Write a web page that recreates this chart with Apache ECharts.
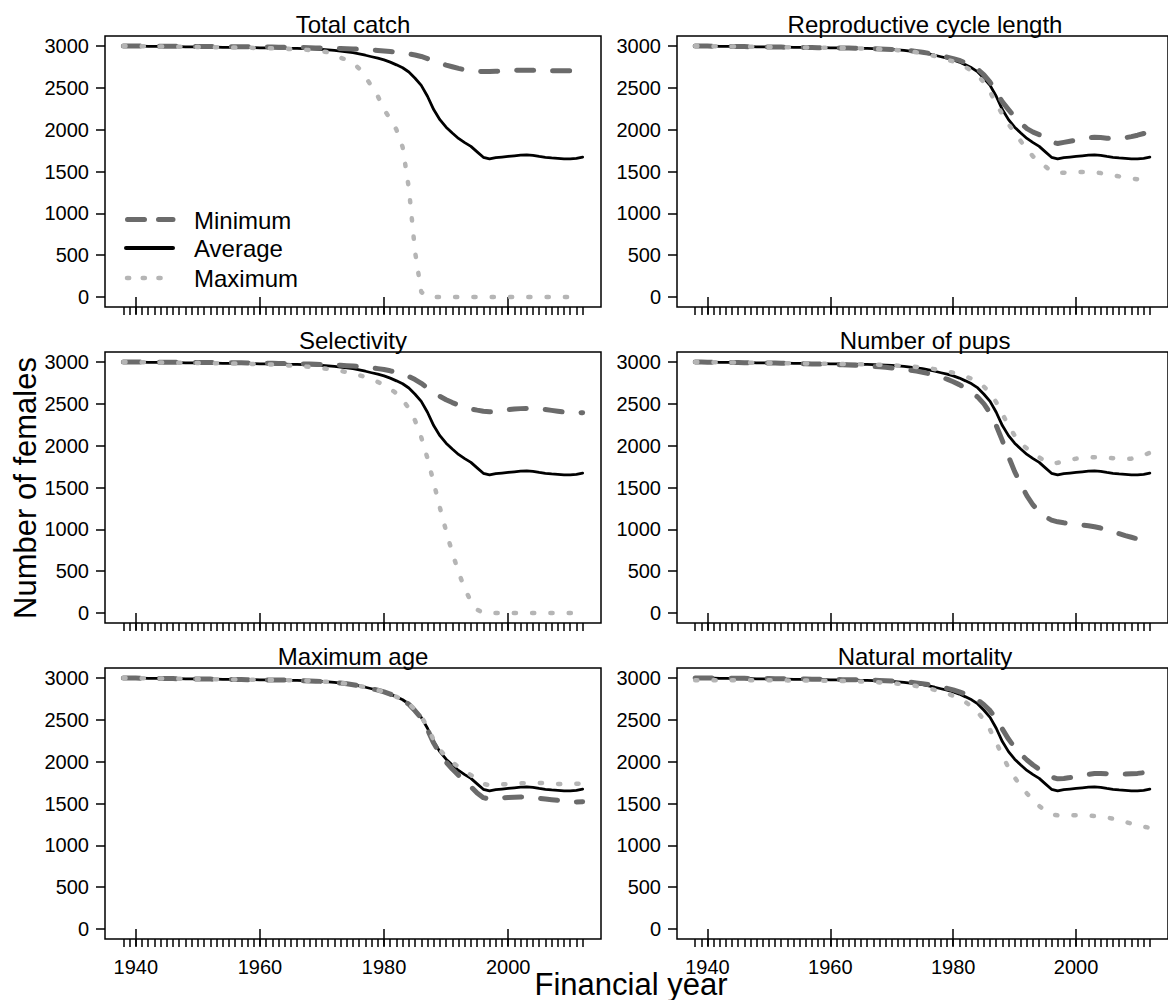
<!DOCTYPE html>
<html>
<head>
<meta charset="utf-8">
<script src="https://cdn.jsdelivr.net/npm/echarts@6/dist/echarts.min.js"></script>
<style>
html,body{margin:0;padding:0;background:#fff;}
#chart{width:1168px;height:1000px;}
</style>
</head>
<body>
<div id="chart"></div>
<script>
// ---------- DATA ----------
const years = [1938,1939,
 1940,1941,1942,1943,1944,1945,1946,1947,1948,1949,
 1950,1951,1952,1953,1954,1955,1956,1957,1958,1959,
 1960,1961,1962,1963,1964,1965,1966,1967,1968,1969,
 1970,1971,1972,1973,1974,1975,1976,1977,1978,1979,
 1980,1981,1982,1983,1984,1985,1986,1987,1988,1989,
 1990,1991,1992,1993,1994,1995,1996,1997,1998,1999,
 2000,2001,2002,2003,2004,2005,2006,2007,2008,2009,
 2010,2011,2012];

const xMajorTicks = [1940,1960,1980,2000];
const yTicks = [0,500,1000,1500,2000,2500,3000];

const panelTitles = ["Total catch","Reproductive cycle length","Selectivity","Number of pups","Maximum age","Natural mortality"];
const seriesNames = ["Minimum","Average","Maximum"];

const average = [3000,3000,
 2999,2998,2997,2996,2995,2994,2993,2992,2991,2990,
 2989,2988,2987,2986,2985,2984,2983,2982,2981,2980,
 2979,2978,2977,2976,2975,2973,2971,2969,2966,2963,
 2959,2954,2948,2940,2931,2920,2906,2890,2872,2855,
 2835,2808,2775,2740,2690,2615,2530,2400,2240,2120,
 2030,1960,1895,1845,1800,1735,1670,1650,1665,1672,
 1680,1688,1695,1698,1692,1680,1670,1662,1656,1650,
 1650,1658,1672];

const catchMin = [3000,3000,
 3000,2999,2999,2998,2998,2997,2997,2996,2996,2995,
 2995,2994,2994,2993,2993,2992,2992,2991,2990,2990,
 2989,2988,2987,2986,2985,2984,2983,2982,2980,2978,
 2976,2974,2972,2970,2968,2965,2962,2958,2954,2948,
 2942,2935,2926,2916,2905,2893,2875,2850,2820,2795,
 2772,2752,2733,2716,2705,2698,2695,2695,2698,2702,
 2706,2710,2712,2712,2710,2708,2706,2705,2705,2705,
 2705,2705,2705];
const catchMax = [3000,3000,
 2999,2998,2997,2996,2995,2994,2993,2992,2991,2990,
 2989,2988,2987,2986,2985,2984,2983,2982,2980,2978,
 2976,2974,2972,2969,2966,2963,2960,2956,2952,2946,
 2938,2925,2900,2860,2835,2800,2730,2630,2520,2400,
 2240,2130,2000,1790,1300,540,60,0,0,0,
 0,0,0,0,0,0,0,0,0,0,
 0,0,0,0,0,0,0,0,0,0,
 0,0,0];

const reproMin = [3000,3000,
 2999,2998,2997,2996,2995,2994,2993,2992,2991,2990,
 2989,2988,2987,2986,2985,2984,2983,2982,2981,2980,
 2979,2978,2977,2976,2975,2973,2971,2969,2966,2963,
 2960,2956,2951,2944,2936,2926,2914,2900,2884,2868,
 2850,2828,2800,2768,2722,2655,2568,2445,2332,2240,
 2152,2078,2012,1970,1940,1895,1850,1835,1848,1862,
 1876,1892,1903,1909,1906,1898,1892,1894,1904,1917,
 1934,1954,1975];
const reproMax = [3000,3000,
 2999,2998,2997,2996,2995,2994,2993,2992,2991,2990,
 2989,2988,2987,2986,2985,2984,2983,2982,2981,2979,
 2978,2977,2976,2975,2973,2971,2969,2966,2963,2959,
 2955,2950,2943,2935,2925,2913,2898,2880,2860,2838,
 2815,2785,2748,2705,2650,2565,2450,2310,2185,2065,
 1965,1862,1765,1680,1620,1560,1500,1482,1485,1489,
 1492,1494,1494,1490,1481,1469,1456,1441,1427,1415,
 1408,1405,1404];

const selMin = [3000,3000,
 3000,2999,2999,2998,2998,2997,2997,2996,2996,2995,
 2995,2994,2994,2993,2993,2992,2991,2990,2989,2988,
 2987,2986,2985,2984,2983,2982,2980,2978,2976,2974,
 2971,2968,2965,2961,2957,2952,2946,2939,2931,2921,
 2910,2895,2877,2855,2826,2790,2745,2690,2640,2590,
 2550,2515,2485,2460,2440,2425,2412,2405,2410,2420,
 2430,2438,2443,2445,2443,2440,2432,2422,2412,2402,
 2395,2392,2395];
const selMax = [3000,3000,
 2999,2998,2997,2996,2995,2994,2993,2992,2991,2990,
 2989,2988,2987,2986,2985,2984,2983,2981,2979,2977,
 2975,2972,2969,2966,2962,2958,2953,2948,2942,2935,
 2927,2918,2907,2894,2880,2863,2843,2820,2793,2762,
 2725,2680,2625,2550,2445,2300,2100,1850,1560,1260,
 980,720,490,290,140,40,0,0,0,0,
 0,0,0,0,0,0,0,0,0,0,
 0,0,0];

const pupsMin = [3000,2999,
 2998,2997,2996,2995,2994,2993,2992,2991,2990,2989,
 2988,2987,2986,2985,2984,2982,2980,2978,2976,2974,
 2972,2970,2967,2964,2961,2957,2953,2948,2943,2937,
 2930,2922,2913,2903,2891,2878,2862,2843,2820,2795,
 2765,2730,2688,2640,2580,2500,2390,2240,2060,1870,
 1690,1540,1400,1290,1210,1150,1110,1090,1078,1068,
 1058,1050,1042,1030,1015,995,972,948,925,905,
 885,865,850];
const pupsMax = [3000,3000,
 2999,2998,2997,2996,2995,2994,2993,2992,2991,2990,
 2989,2988,2987,2986,2985,2984,2983,2982,2981,2980,
 2979,2978,2977,2976,2975,2973,2971,2969,2967,2964,
 2961,2957,2953,2948,2942,2935,2926,2915,2902,2888,
 2872,2852,2828,2800,2760,2705,2630,2520,2380,2240,
 2120,2030,1965,1910,1860,1815,1790,1795,1815,1832,
 1845,1852,1858,1862,1860,1855,1850,1846,1843,1845,
 1860,1885,1915];

const ageMin = [3000,3000,
 2999,2998,2997,2996,2995,2994,2993,2992,2991,2990,
 2989,2988,2987,2986,2985,2984,2983,2982,2981,2980,
 2979,2978,2977,2976,2975,2973,2971,2969,2966,2963,
 2959,2954,2948,2940,2931,2920,2906,2890,2872,2855,
 2835,2808,2775,2738,2686,2608,2520,2385,2222,2095,
 1995,1912,1838,1770,1700,1625,1570,1552,1560,1568,
 1572,1575,1578,1576,1570,1562,1553,1545,1538,1530,
 1522,1518,1522];
const ageMax = [3000,3000,
 2999,2998,2997,2996,2995,2994,2993,2992,2991,2990,
 2989,2988,2987,2986,2985,2984,2983,2982,2981,2980,
 2979,2978,2977,2976,2975,2973,2971,2969,2966,2963,
 2959,2954,2948,2940,2931,2920,2906,2890,2872,2855,
 2835,2808,2775,2742,2694,2622,2540,2415,2258,2142,
 2060,1995,1935,1885,1840,1785,1735,1718,1722,1728,
 1733,1738,1742,1745,1746,1745,1742,1738,1733,1730,
 1730,1735,1742];

const mortMin = [3000,3000,
 3000,2999,2999,2998,2998,2997,2996,2995,2995,2994,
 2993,2992,2991,2990,2989,2988,2987,2986,2985,2984,
 2983,2982,2981,2980,2979,2977,2975,2973,2971,2968,
 2965,2961,2956,2950,2942,2933,2922,2908,2892,2876,
 2858,2835,2808,2778,2738,2680,2610,2510,2390,2270,
 2170,2090,2020,1960,1910,1860,1815,1795,1800,1810,
 1822,1835,1848,1858,1860,1856,1852,1850,1852,1856,
 1860,1868,1880];
const mortMax = [2975,2975,
 2975,2975,2975,2975,2975,2975,2975,2975,2975,2974,
 2974,2973,2973,2972,2972,2971,2970,2969,2968,2967,
 2966,2965,2964,2962,2960,2958,2955,2952,2948,2943,
 2938,2932,2924,2915,2904,2891,2876,2858,2838,2815,
 2788,2755,2712,2658,2590,2500,2380,2230,2070,1930,
 1810,1710,1620,1540,1470,1410,1370,1358,1358,1360,
 1360,1358,1355,1350,1342,1332,1318,1300,1280,1260,
 1240,1222,1210];

const panelMins = [catchMin, reproMin, selMin, pupsMin, ageMin, mortMin];
const panelMaxs = [catchMax, reproMax, selMax, pupsMax, ageMax, mortMax];

// ---------- LAYOUT / STYLE ----------
const FONT = '"Liberation Sans", Arial, sans-serif';
const gridLefts = [105, 677];
const gridTops = [36, 352, 668];
const GW = 496, GH = 271;
const XMIN = 1935.04, XMAX = 2014.96;
const YMIN = -120, YMAX = 3120;
const colMin = '#6b6b6b', colAvg = '#000000', colMax = '#b5b5b5';
const dashMin = [17, 19], dashMax = [2.2, 16.1];
const plain = v => String(Math.round(v));

function pairs(vals){ return years.map((y,i)=>[y, vals[i]]); }

const grids = [], xAxes = [], yAxes = [], series = [], graphics = [];
for (let p = 0; p < 6; p++) {
  const row = Math.floor(p/2), col = p%2;
  grids.push({left: gridLefts[col], top: gridTops[row], width: GW, height: GH,
    show: true, borderColor: '#000', borderWidth: 1.5, backgroundColor: 'rgba(0,0,0,0)', containLabel: false});
  // major x axis
  xAxes.push({gridIndex: p, type: 'value', min: XMIN, max: XMAX, position: 'bottom',
    axisLine: {show: false}, splitLine: {show: false},
    axisTick: {show: true, length: 17, customValues: xMajorTicks, lineStyle: {color: '#000', width: 1.5}},
    axisLabel: {show: row === 2, customValues: xMajorTicks, formatter: plain, margin: 18, fontSize: 20, color: '#000', fontFamily: FONT}
  });
  // minor x axis
  xAxes.push({gridIndex: p, type: 'value', min: XMIN, max: XMAX, position: 'bottom',
    axisLine: {show: false}, splitLine: {show: false},
    axisTick: {show: true, length: 8, customValues: years, lineStyle: {color: '#000', width: 1.5}},
    axisLabel: {show: false}
  });
  yAxes.push({gridIndex: p, type: 'value', min: YMIN, max: YMAX,
    axisLine: {show: false}, splitLine: {show: false},
    axisTick: {show: true, length: 9, customValues: yTicks, lineStyle: {color: '#000', width: 1.5}},
    axisLabel: {customValues: yTicks, formatter: plain, margin: 16, fontSize: 20, color: '#000', fontFamily: FONT}
  });
  const common = {type: 'line', xAxisIndex: 2*p, yAxisIndex: p, symbol: 'none', silent: true, animation: false, z: 3};
  series.push(Object.assign({}, common, {name: seriesNames[1], data: pairs(average),
    lineStyle: {color: colAvg, width: 2.8, cap: 'round', join: 'round'}}));
  series.push(Object.assign({}, common, {name: seriesNames[0], data: pairs(panelMins[p]),
    lineStyle: {color: colMin, width: 5, type: dashMin, cap: 'round', join: 'round'}}));
  series.push(Object.assign({}, common, {name: seriesNames[2], data: pairs(panelMaxs[p]),
    lineStyle: {color: colMax, width: 4.5, type: dashMax, cap: 'round', join: 'round'}}));
  // panel title
  graphics.push({type: 'text', x: gridLefts[col] + GW/2, y: gridTops[row] - 12,
    style: {text: panelTitles[p], font: '24px ' + FONT, fill: '#000', align: 'center', textAlign: 'center', verticalAlign: 'middle', textVerticalAlign: 'middle'}});
}

// axis titles
graphics.push({type: 'text', x: 25, y: 488, rotation: Math.PI/2,
  style: {text: 'Number of females', font: '31px ' + FONT, fill: '#000', align: 'center', textAlign: 'center', verticalAlign: 'middle', textVerticalAlign: 'middle'}});
graphics.push({type: 'text', x: 631, y: 984,
  style: {text: 'Financial year', font: '31px ' + FONT, fill: '#000', align: 'center', textAlign: 'center', verticalAlign: 'middle', textVerticalAlign: 'middle'}});

// legend (top-left panel)
const legY = [219.5, 248, 278];
graphics.push({type: 'line', shape: {x1: 127.5, y1: legY[0], x2: 173, y2: legY[0]},
  style: {stroke: colMin, lineWidth: 5, lineDash: [17, 14], lineCap: 'round'}});
graphics.push({type: 'line', shape: {x1: 126, y1: legY[1], x2: 173, y2: legY[1]},
  style: {stroke: colAvg, lineWidth: 4, lineCap: 'round'}});
graphics.push({type: 'line', shape: {x1: 127, y1: legY[2], x2: 172, y2: legY[2]},
  style: {stroke: colMax, lineWidth: 4.5, lineDash: [2.2, 13.5], lineCap: 'round'}});
[seriesNames[0], seriesNames[1], seriesNames[2]].forEach((t, i) => {
  graphics.push({type: 'text', x: 194, y: legY[i] + 0.5,
    style: {text: t, font: '24px ' + FONT, fill: '#000', align: 'left', textAlign: 'left', verticalAlign: 'middle', textVerticalAlign: 'middle'}});
});

const chart = echarts.init(document.getElementById('chart'), null, {renderer: 'svg', width: 1168, height: 1000});
chart.setOption({
  animation: false,
  backgroundColor: '#fff',
  grid: grids,
  xAxis: xAxes,
  yAxis: yAxes,
  series: series,
  graphic: {elements: graphics}
});
</script>
</body>
</html>
